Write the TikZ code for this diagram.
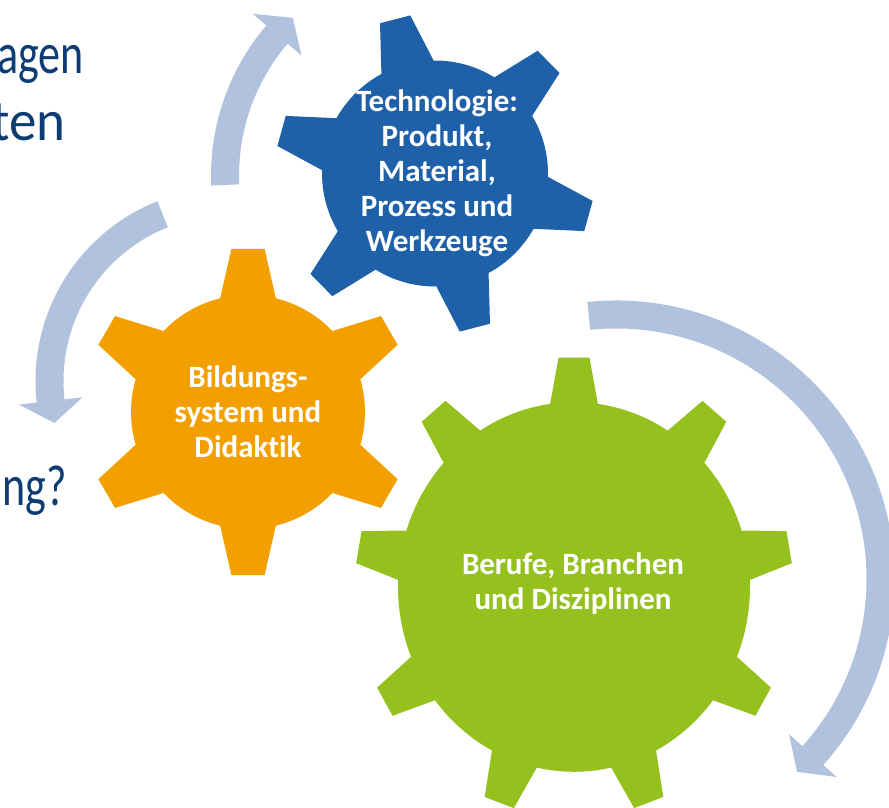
\documentclass[tikz,border=0pt]{standalone}
\usepackage{fontspec}
\setmainfont{Carlito}[Ligatures=NoCommon]
\newfontfamily\sidefont[FakeStretch=0.76]{Carlito}
\newfontfamily\sidewidefont[FakeStretch=0.95]{Carlito}
\usepackage{tikz}
\definecolor{gearblue}{HTML}{1F61A9}
\definecolor{gearorange}{HTML}{F49F00}
\definecolor{geargreen}{HTML}{95C11F}
\definecolor{ringgray}{HTML}{B0C2DD}
\definecolor{sidenavy}{HTML}{0D3B73}
% #1 teeth, #2 first tooth, #3 body radius, #4 tip radius, #5 half angle at body, #6 half angle at tip
\newcommand{\gearpath}[6]{({#2-#5}:#3) \foreach \k in {1,...,#1}{ -- ({#2+(\k-1)*360/#1-#6}:#4) -- ({#2+(\k-1)*360/#1+#6}:#4) -- ({#2+(\k-1)*360/#1+#5}:#3) arc[start angle={#2+(\k-1)*360/#1+#5}, end angle={#2+\k*360/#1-#5}, radius=#3]} -- cycle}
% #1 centre, #2 tail angle, #3 head angle, #4 tip angle, #5 radius
\newcommand{\ringarrow}[5]{\fill[ringgray, shift={#1}] ({#2}:{#5+14}) arc[start angle=#2, end angle=#3, radius={#5+14}] -- ({#3}:{#5+32}) -- ({#4}:#5) -- ({#3}:{#5-32}) -- ({#3}:{#5-14}) arc[start angle=#3, end angle=#2, radius={#5-14}] -- cycle;}
\tikzset{
	geartext/.style={text=white, font=\bfseries\fontsize{31}{35}\selectfont, align=center, inner sep=0pt},
	sidetext/.style={text=sidenavy, font=\sidefont\fontsize{58}{68}\selectfont, inner sep=0pt, anchor=base east}
}

\begin{document}
\begin{tikzpicture}[x=1pt,y=1pt]
	\useasboundingbox (0,0) rectangle (889,808);
	\clip (0,0) rectangle (889,808);
	\ringarrow{(442,632.5)}{182.5}{139.5}{133.4}{217}
	\ringarrow{(229,427)}{111.7}{186.4}{193.5}{179.5}
	\ringarrow{(616,229)}{95.9}{-41.9}{-46.8}{264.5}
	\fill[gearblue, shift={(435,634.5)}] \gearpath{6}{44.5}{113}{160}{13.8}{5.6};
	\fill[gearorange, shift={(248,396)}] \gearpath{6}{30}{117}{164}{13.8}{5.8};
	\fill[geargreen, shift={(574,221)}, yscale=1.05] \gearpath{9}{10}{176}{219}{7.8}{4.06};
	\node[geartext] (tech) at (437,635) {Technologie:\\Produkt,\\Material,\\Prozess und\\Werkzeuge};
	\node[geartext] (bildung) at (248,396) {Bildungs-\\system und\\Didaktik};
	\node[geartext] (berufe) at (573,224) {Berufe, Branchen\\und Disziplinen};
	\node[sidetext] (fragen) at (84,734) {agen};
	\node[sidetext, font=\sidewidefont\fontsize{58}{68}\selectfont] (zeiten) at (66,667) {ten};
	\node[sidetext] (frage) at (67,302) {ng?};
\end{tikzpicture}
\end{document}
